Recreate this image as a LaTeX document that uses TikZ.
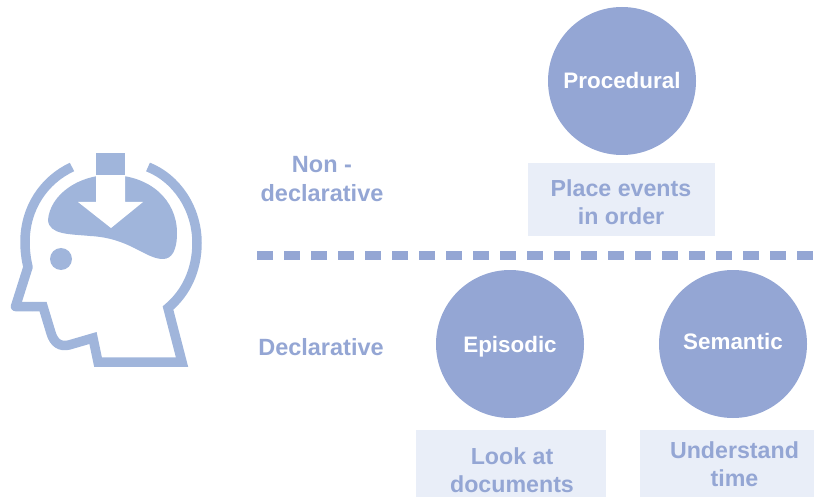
\documentclass[tikz,border=0pt]{standalone}
\usepackage{fontspec}
\setmainfont{Liberation Sans}
\definecolor{circc}{HTML}{94A6D4}
\definecolor{headc}{HTML}{A0B5DB}
\definecolor{boxc}{HTML}{E9EEF8}
\definecolor{txt}{HTML}{94A6D4}
\tikzset{
  circn/.style={circle,fill=circc,minimum size=148pt,inner sep=0pt,text=white,text height=16pt,text depth=0pt,font=\fontsize{22.4}{26}\selectfont\bfseries},
  boxn/.style={fill=boxc,inner sep=0pt},
  boxt/.style={text=txt,align=center,inner sep=0pt,font=\fontsize{23.2}{28}\selectfont\bfseries},
  lab/.style={text=txt,align=center,font=\fontsize{23.5}{29}\selectfont\bfseries},
  headline/.style={draw=headc,line width=9.5pt,line join=miter,fill=none}
}
\begin{document}
\begin{tikzpicture}[x=1pt,y=-1pt]
\useasboundingbox (0,0) rectangle (814,497);
% head
\draw[headline,line join=round] (72,167) .. controls (44,180) and (25,208) .. (25,242)
  .. controls (25,250) and (26,259) .. (28,267)
  -- (15.5,306.5) -- (32,306.5);
\draw[headline] (32,306.5) -- (43,306.5) -- (51,333) .. controls (54,343) and (60,347) .. (69,345)
  -- (93,338) -- (98,362) -- (182,362) -- (168,308)
  .. controls (186,293) and (197,270) .. (197,243)
  .. controls (197,208) and (176,178) .. (148,167);
\fill[headc] (48,220) .. controls (50,195) and (78,175) .. (110,175)
  .. controls (150,175) and (177,200) .. (177,233)
  .. controls (177,250) and (172,259) .. (163,259)
  .. controls (145,259) and (130,238) .. (90,236)
  .. controls (70,234) and (49,235) .. (48,220) -- cycle;
\fill[white] (96,175) -- (96,202) -- (78,202) -- (111,228) -- (143,202) -- (125,202) -- (125,175) -- cycle;
\fill[headc] (96,153) rectangle (125,175);
\fill[headc] (61,259) circle (11);
% dashed divider
\coordinate (dl) at (257,256);
\coordinate (dr) at (814,256);
\draw[draw=circc,line width=9pt,dash pattern=on 16pt off 11pt] (dl) -- (dr);
% circles
\node[circn] (proc) at (622,81) {Procedural};
\node[circn] (epi) at (510,344) {Episodic};
\node[circn,text height=10pt] (sem) at (733,344) {Semantic};
% boxes
\node[boxn,minimum width=187pt,minimum height=73pt] (bp) at (621.5,199.5) {};
\node[boxn,minimum width=190pt,minimum height=67pt] (be) at (511,463.5) {};
\node[boxn,minimum width=174pt,minimum height=67pt] (bs) at (727,463.5) {};
\node[boxt] (tp) at (621,202) {Place events\\in order};
\node[boxt] (te) at (512,470) {Look at\\documents};
\node[boxt] (ts) at (734.5,464.5) {Understand\\time};
% labels
\node[lab] (nd) at (322,179.5) {Non -\\declarative};
\node[lab] (de) at (321,347) {Declarative};
\end{tikzpicture}
\end{document}
